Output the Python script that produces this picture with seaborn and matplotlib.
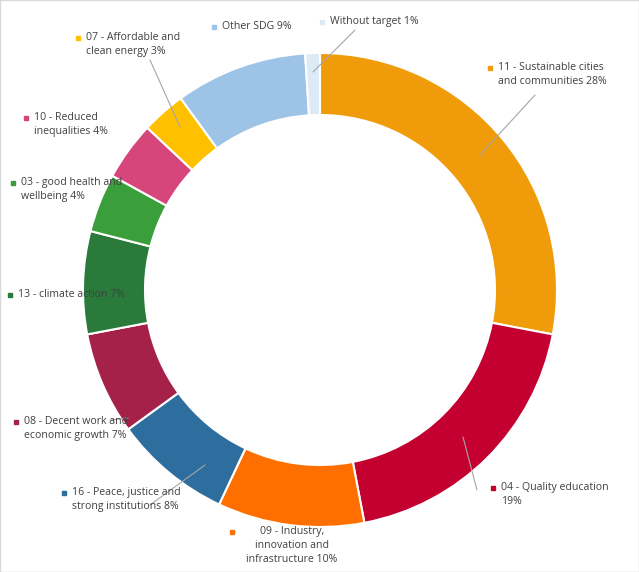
import matplotlib
matplotlib.use("Agg")
import matplotlib.pyplot as plt
import seaborn as sns

sns.set_style("white")
plt.rcParams['font.family'] = ['Open Sans', 'DejaVu Sans']

# slices clockwise from 12 o'clock
data = [
    ("11 - Sustainable cities\nand communities 28%", 28, "#F09C0A", (490, 68), 'left'),
    ("04 - Quality education\n19%", 19, "#C3002F", (493, 488), 'left'),
    ("09 - Industry,\ninnovation and\ninfrastructure 10%", 10, "#FF6F00", (232, 532), 'left'),
    ("16 - Peace, justice and\nstrong institutions 8%", 8, "#2E6E9E", (64, 493), 'left'),
    ("08 - Decent work and\neconomic growth 7%", 7, "#A6214A", (16, 422), 'left'),
    ("13 - climate action 7%", 7, "#2A7A3B", (10, 295), 'left'),
    ("03 - good health and\nwellbeing 4%", 4, "#3A9E3A", (13, 183), 'left'),
    ("10 - Reduced\ninequalities 4%", 4, "#D6467A", (26, 118), 'left'),
    ("07 - Affordable and\nclean energy 3%", 3, "#FFC000", (78, 38), 'left'),
    ("Other SDG 9%", 9, "#9DC3E6", (214, 27), 'left'),
    ("Without target 1%", 1, "#DDEBF7", (322, 22), 'left'),
]
H = 572
vals = [d[1] for d in data]
cols = [d[2] for d in data]

fig = plt.figure(figsize=(6.39, 5.72), dpi=100)
ax = fig.add_axes([0, 0, 1, 1])
ax.pie(vals, colors=cols, startangle=90, counterclock=False, center=(320, H - 290),
       radius=237, wedgeprops=dict(width=62, edgecolor='white', linewidth=1.5))
ax.set_xlim(0, 639)
ax.set_ylim(0, H)
ax.set_aspect('equal')
ax.axis('off')

for label, v, c, (px, py), ha in data:
    lines = label.split("\n")
    if label.startswith("09"):
        ax.plot(px, H - py, 's', color=c, ms=3.5)
        ax.text(292, H - py + 6, label, ha='center', va='top', fontsize=7.6,
                color='#404040', linespacing=1.35)
        continue
    ax.plot(px, H - py, 's', color=c, ms=3.5)
    ax.text(px + 8, H - py + 6, label, ha='left', va='top', fontsize=7.6,
            color='#404040', linespacing=1.35)

# leader lines
leaders = [((480, 155), (535, 95)), ((463, 437), (477, 490)),
           ((205, 465), (150, 505)), ((180, 127), (150, 60)),
           ((313, 72), (355, 30)), ((128, 418), (110, 420))]
for (x0, y0), (x1, y1) in leaders:
    ax.plot([x0, x1], [H - y0, H - y1], color='#A6A6A6', lw=0.8)

fig.patches.append(plt.Rectangle((0, 0), 1, 1, transform=fig.transFigure,
                                 fill=False, edgecolor='#D9D9D9', lw=1))
fig.savefig("out.png", dpi=100)
